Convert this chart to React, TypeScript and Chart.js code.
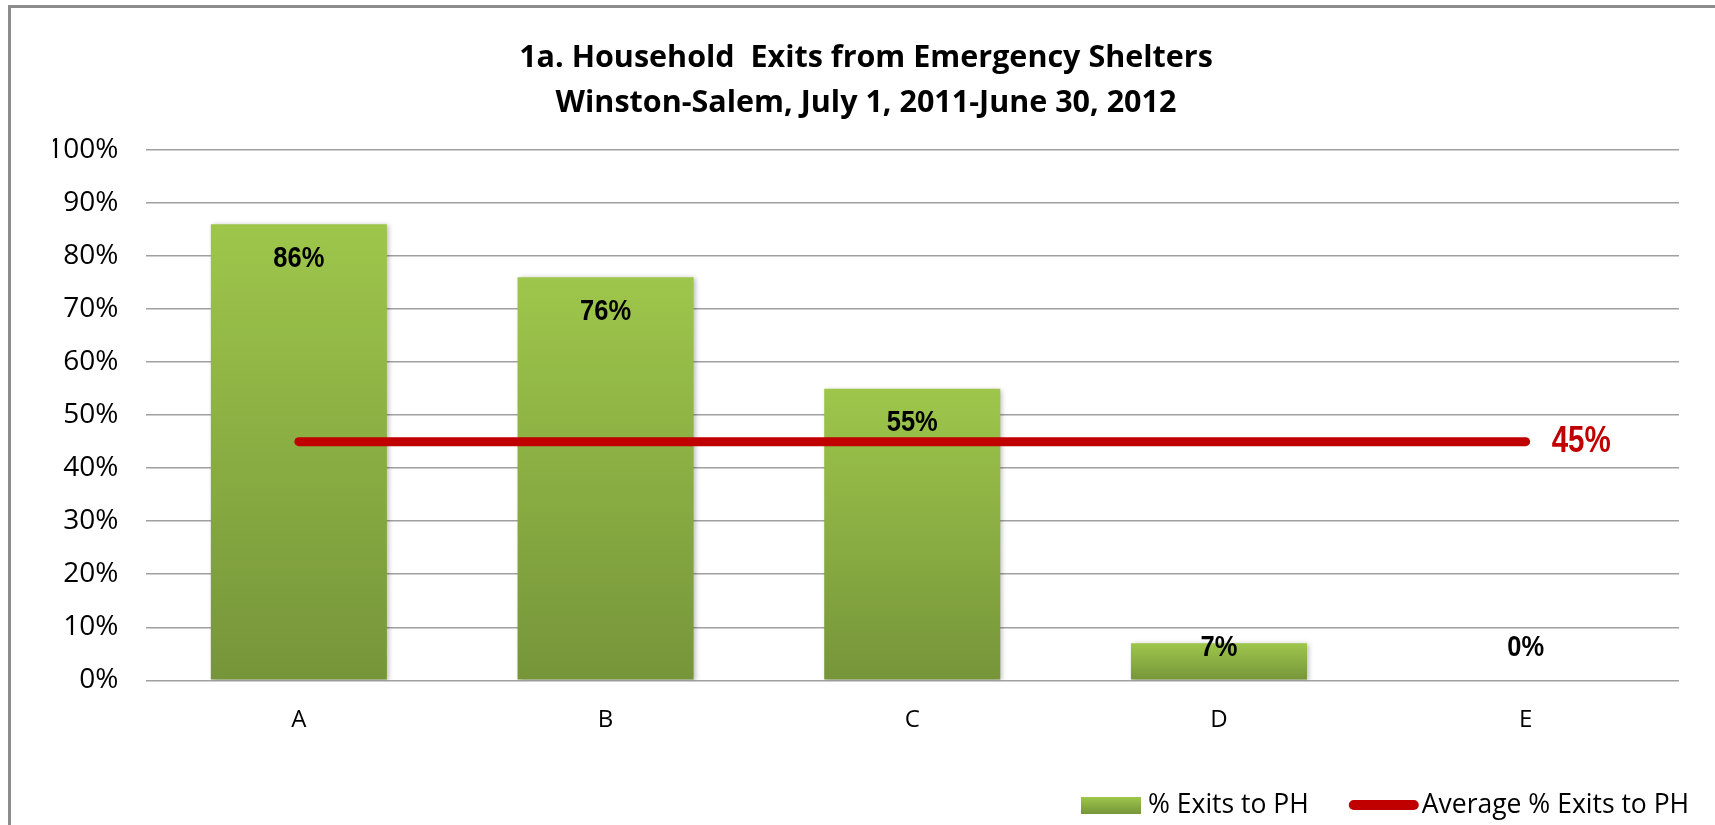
import { useEffect, useRef } from "react";
import { Chart, registerables } from "chart.js";

Chart.register(...registerables);

// ---- data ----
const categories = ["A", "B", "C", "D", "E"];
const exitsToPH = [0.86, 0.76, 0.55, 0.07, 0];
const averageExitsToPH = [0.45, 0.45, 0.45, 0.45, 0.45];
const titleLines = [
  "1a. Household  Exits from Emergency Shelters",
  "Winston-Salem, July 1, 2011-June 30, 2012",
];
const barSeriesName = "% Exits to PH";
const lineSeriesName = "Average % Exits to PH";

// ---- styling ----
const W = 1715;
const H = 825;
const TEXT_FONT = "'Open Sans', Lato, sans-serif";
const LABEL_FONT = "'Liberation Sans', Arial, sans-serif";
const GREEN_TOP = "#9ec64b";
const GREEN_BOTTOM = "#76953a";
const RED = "#c00000";
const GRID = "#a0a0a0";

const pct = (v: number) => `${Math.round(v * 100)}%`;

function barGradient(ctx: CanvasRenderingContext2D, top: number, bottom: number) {
  const g = ctx.createLinearGradient(0, top, 0, bottom);
  g.addColorStop(0, GREEN_TOP);
  g.addColorStop(1, GREEN_BOTTOM);
  return g;
}

// bold label squeezed horizontally (narrow face)
function narrowText(
  ctx: CanvasRenderingContext2D,
  text: string,
  x: number,
  y: number,
  squeeze: number
) {
  ctx.save();
  ctx.translate(x, y);
  ctx.scale(squeeze, 1);
  ctx.fillText(text, 0, 0);
  ctx.restore();
}

// soft drop shadow behind the bars
const barShadow = {
  id: "barShadow",
  beforeDatasetDraw(chart: any, args: any) {
    if (chart.data.datasets[args.index].type !== "bar") return;
    const ctx = chart.ctx;
    ctx.save();
    ctx.shadowColor = "rgba(0,0,0,0.28)";
    ctx.shadowBlur = 5;
    ctx.shadowOffsetX = 2;
    ctx.shadowOffsetY = 1;
  },
  afterDatasetDraw(chart: any, args: any) {
    if (chart.data.datasets[args.index].type !== "bar") return;
    chart.ctx.restore();
  },
};

// value labels: inside the top of each bar, and the average beside the line end
const valueLabels = {
  id: "valueLabels",
  afterDatasetsDraw(chart: any) {
    const ctx = chart.ctx;
    const yScale = chart.scales.y;
    const base = yScale.getPixelForValue(0);
    chart.data.datasets.forEach((ds: any, di: number) => {
      const meta = chart.getDatasetMeta(di);
      ctx.save();
      ctx.textBaseline = "middle";
      if (ds.type === "bar") {
        ctx.font = `bold 30px ${LABEL_FONT}`;
        ctx.fillStyle = "#000";
        ctx.textAlign = "center";
        meta.data.forEach((el: any, i: number) => {
          const y = Math.min(el.y + 34, base - 33);
          narrowText(ctx, pct(ds.data[i]), el.x, y, 0.85);
        });
      } else {
        const last = meta.data[meta.data.length - 1];
        ctx.font = `bold 36px ${LABEL_FONT}`;
        ctx.fillStyle = RED;
        ctx.textAlign = "left";
        narrowText(ctx, pct(ds.data[ds.data.length - 1]), last.x + 26, last.y, 0.82);
      }
      ctx.restore();
    });
  },
};

// legend along the bottom right
const bottomLegend = {
  id: "bottomLegend",
  afterDraw(chart: any) {
    const ctx = chart.ctx;
    const cy = 805;
    let x = 1081;
    ctx.save();
    ctx.font = `26.5px ${TEXT_FONT}`;
    ctx.textBaseline = "middle";
    ctx.textAlign = "left";

    const barDs = chart.data.datasets.find((d: any) => d.type === "bar");
    const lineDs = chart.data.datasets.find((d: any) => d.type === "line");

    ctx.fillStyle = barGradient(ctx, cy - 8, cy + 9);
    ctx.fillRect(x, cy - 8, 60, 17);
    x += 67;
    ctx.fillStyle = "#000";
    ctx.fillText(barDs.label, x, cy);
    x += ctx.measureText(barDs.label).width + 40;

    ctx.strokeStyle = RED;
    ctx.lineWidth = 10;
    ctx.lineCap = "round";
    ctx.beginPath();
    ctx.moveTo(x + 5, cy);
    ctx.lineTo(x + 65, cy);
    ctx.stroke();
    x += 73;
    ctx.fillText(lineDs.label, x, cy);
    ctx.restore();
  },
};

export default function App() {
  const canvasRef = useRef<HTMLCanvasElement | null>(null);

  useEffect(() => {
    if (!canvasRef.current) return;
    const chart = new Chart(canvasRef.current, {
      type: "bar",
      data: {
        labels: categories,
        datasets: [
          {
            type: "line",
            label: lineSeriesName,
            data: averageExitsToPH,
            borderColor: RED,
            backgroundColor: RED,
            borderWidth: 9,
            borderCapStyle: "round",
            pointRadius: 0,
            pointHoverRadius: 0,
            order: 0,
          } as any,
          {
            type: "bar",
            label: barSeriesName,
            data: exitsToPH,
            backgroundColor: (c: any) => {
              const ch = c.chart;
              if (!ch.chartArea || c.raw == null) return GREEN_TOP;
              const top = ch.scales.y.getPixelForValue(c.raw);
              const bottom = ch.scales.y.getPixelForValue(0);
              if (bottom - top < 1) return GREEN_TOP;
              return barGradient(ch.ctx, top, bottom);
            },
            categoryPercentage: 1,
            barPercentage: 0.574,
            order: 1,
          } as any,
        ],
      },
      options: {
        responsive: false,
        animation: false,
        events: [],
        layout: { padding: { left: 53, right: 36, top: 0, bottom: 84.7 } },
        plugins: {
          legend: { display: false },
          tooltip: { enabled: false },
          title: {
            display: true,
            text: titleLines,
            color: "#000",
            font: { family: TEXT_FONT, size: 30.5, weight: "bold", lineHeight: 44.7 / 30.5 },
            padding: { top: 36, bottom: 24.6 },
          },
        },
        scales: {
          x: {
            grid: { display: false },
            border: { display: false },
            ticks: { color: "#000", font: { family: TEXT_FONT, size: 24 }, padding: 17 },
            afterFit: (s: any) => {
              s.height = 60;
            },
          },
          y: {
            min: 0,
            max: 1,
            grid: { color: GRID, lineWidth: 1.5, drawTicks: false },
            border: { display: false },
            ticks: {
              stepSize: 0.1,
              color: "#000",
              font: { family: TEXT_FONT, size: 28 },
              padding: 27,
              callback: (v: any) => pct(Number(v)),
            },
            afterFit: (s: any) => {
              s.width = 92.5;
            },
          },
        },
      },
      plugins: [barShadow, valueLabels, bottomLegend],
    });
    return () => chart.destroy();
  }, []);

  return (
    <div
      style={{
        position: "fixed",
        left: 0,
        top: 0,
        width: W,
        height: H,
        overflow: "hidden",
        background: "#fff",
      }}
    >
      <div
        style={{
          position: "absolute",
          left: 8,
          top: 5,
          width: W + 100,
          height: H + 100,
          border: "3px solid #8c8c8c",
        }}
      />
      <canvas
        ref={canvasRef}
        width={W}
        height={H}
        style={{ position: "absolute", left: 0, top: 0, width: W, height: H }}
      />
    </div>
  );
}
